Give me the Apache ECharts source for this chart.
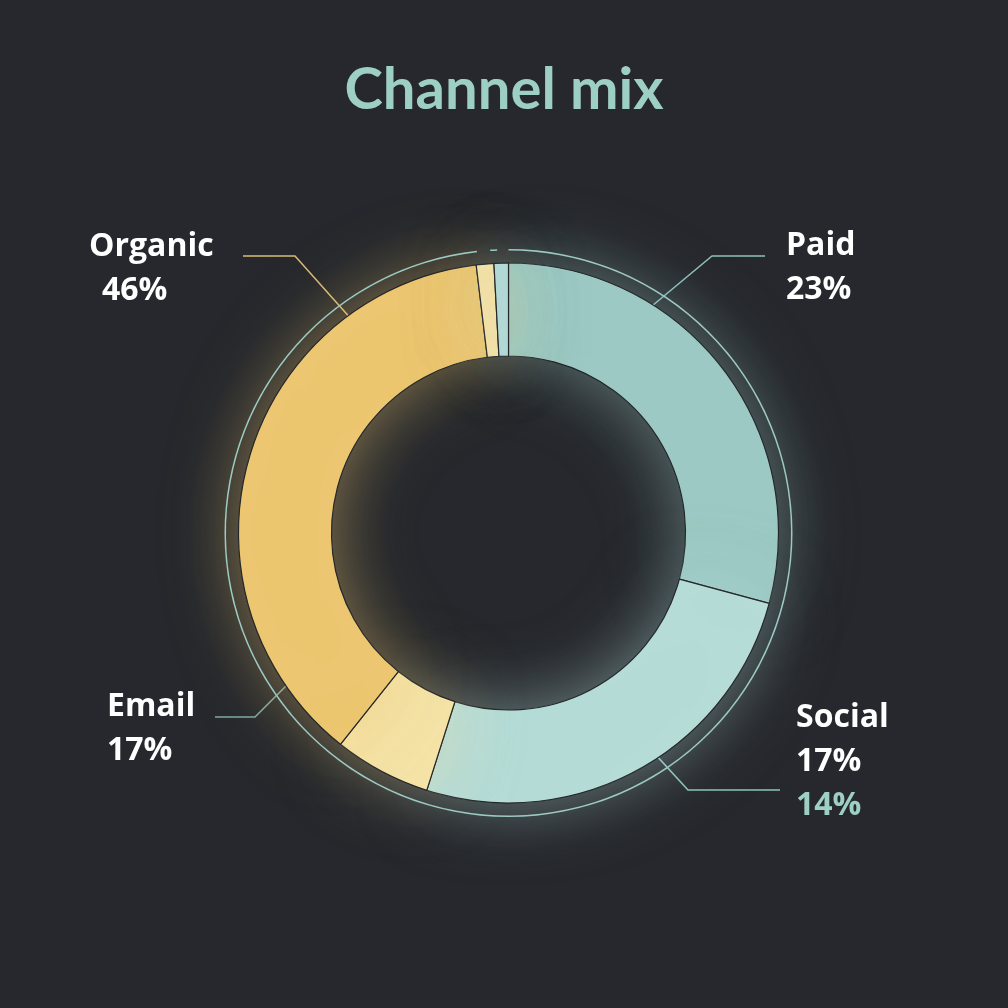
<!DOCTYPE html>
<html>
<head>
<meta charset="utf-8">
<title>Channel mix</title>
<script src="https://cdn.jsdelivr.net/npm/echarts@6/dist/echarts.min.js"></script>
<style>
  html, body { margin: 0; padding: 0; background: #26282d; }
  #map { width: 1008px; height: 1008px; }
</style>
</head>
<body>
<div id="map"></div>
<script>
// slices clockwise from 12 o'clock, share of the ring (%)
let names = ['Paid', 'Social', 'Email', 'Organic', 'Minor A', 'Minor B'];
let shares = [29.2, 25.7, 5.8, 37.4, 1.05, 0.86];
let colors = ['#9dcac4', '#b6dcd7', '#f6e4a8', '#ecc770', '#f5e2a6', '#b2d9d6'];
// printed labels (as written on the chart)
let labelNames = ['Paid', 'Social', 'Email', 'Organic'];
let labelPcts = ['23%', '17%', '17%', '46%'];
let labelExtra = ['', '14%', '', ''];
// thin outer ring: drawn arc, gap, dash, gap (degrees)
let ringParts = [353.6, 2.7, 1.4, 2.3];

let chart = echarts.init(document.getElementById('map'));

let cx = 508.5, cy = 533, rIn = 177, rOut = 270;
// where each label sits and how its leader line bends
let spots = [
    {ang: 32.4, elbow: [712, 256], end: [765, 256], tx: 786, ty: 268, line: '#8fc1ba', indent: 0},
    {ang: 146.3, elbow: [688, 790], end: [780, 790], tx: 796, ty: 762, line: '#8cc3bc', indent: 0},
    {ang: 235.5, elbow: [255, 717], end: [215, 717], tx: 107, ty: 729, line: '#7fa9a4', indent: 0},
    {ang: 323.6, elbow: [295, 256], end: [243, 256], tx: 89, ty: 269, line: '#d8bc74', indent: 13}
];

function glow(c, a){
    let n = parseInt(c.slice(1), 16);
    return 'rgba(' + (n >> 16) + ',' + ((n >> 8) & 255) + ',' + (n & 255) + ',' + a + ')';
}

let data = names.map((name, i) => {
    let item = {
        name: name,
        value: shares[i],
        itemStyle: {
            color: colors[i],
            borderColor: '#25282b',
            borderWidth: 1.2,
            shadowBlur: 70,
            shadowColor: glow(colors[i], 0.5)
        }
    };
    if (i < labelNames.length) {
        item.labelLine = {show: true, lineStyle: {color: spots[i].line, width: 1.5}};
    } else {
        item.label = {show: false};
        item.labelLine = {show: false};
    }
    return item;
});

let titleFont = 'Lato, "Open Sans", sans-serif';
let font = '"Open Sans", Lato, sans-serif';

let option = {
    backgroundColor: '#26282d',
    title: {
        text: 'Channel mix',
        left: 'center',
        top: 56,
        textStyle: {
            color: '#9ecfc5',
            fontFamily: titleFont,
            fontWeight: 'bold',
            fontSize: 58
        }
    },
    series: [
        {
            type: 'pie',
            center: [cx, cy],
            radius: [rIn, rOut],
            startAngle: 90,
            clockwise: true,
            silent: true,
            data: data,
            label: {
                show: true,
                position: 'outside',
                formatter(p){
                    let i = p.dataIndex;
                    if (!spots[i]) return '';
                    let s = '{n|' + labelNames[i] + '}\n{' + (spots[i].indent ? 'q' : 'p') + '|' + labelPcts[i] + '}';
                    if (labelExtra[i]) s += '\n{x|' + labelExtra[i] + '}';
                    return s;
                },
                rich: {
                    n: {color: '#ffffff', fontFamily: font, fontWeight: 'bold', fontSize: 32, lineHeight: 44},
                    p: {color: '#ffffff', fontFamily: font, fontWeight: 'bold', fontSize: 32, lineHeight: 44},
                    q: {color: '#ffffff', fontFamily: font, fontWeight: 'bold', fontSize: 32, lineHeight: 44, padding: [0, 0, 0, 13]},
                    x: {color: '#9ecfc5', fontFamily: font, fontWeight: 'bold', fontSize: 32, lineHeight: 44}
                }
            },
            labelLayout(params){
                let s = spots[params.dataIndex];
                if (!s) return {};
                let a = s.ang * Math.PI / 180;
                let ax = cx + rOut * Math.sin(a);
                let ay = cy - rOut * Math.cos(a);
                return {
                    x: s.tx,
                    y: s.ty,
                    align: 'left',
                    verticalAlign: 'middle',
                    labelLinePoints: [[ax, ay], s.elbow, s.end]
                };
            }
        },
        {
            type: 'pie',
            center: [cx, cy],
            radius: [282.5, 284],
            startAngle: 90,
            clockwise: true,
            silent: true,
            label: {show: false},
            labelLine: {show: false},
            data: ringParts.map((v, i) => ({
                value: v,
                itemStyle: {color: i % 2 ? 'rgba(0,0,0,0)' : '#9ccac3'}
            }))
        }
    ]
};
chart.setOption(option);
</script>
</body>
</html>
